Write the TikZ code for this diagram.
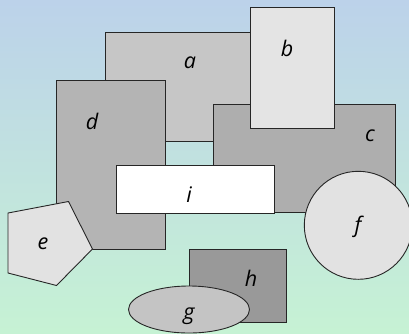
\documentclass[tikz,border=0pt]{standalone}
\usepackage{fontspec}
\setsansfont{Open Sans}
\usetikzlibrary{shapes.geometric}
\definecolor{skytop}{HTML}{BCD2EA}
\definecolor{skybot}{HTML}{C6F2D4}
\definecolor{greyA}{HTML}{C6C6C6}
\definecolor{greyB}{HTML}{E4E4E4}
\definecolor{greyC}{HTML}{AEAEAE}
\definecolor{greyD}{HTML}{B4B4B4}
\definecolor{greyE}{HTML}{E2E2E2}
\definecolor{greyG}{HTML}{C4C4C4}
\definecolor{greyH}{HTML}{999999}
\begin{document}
\begin{tikzpicture}[x=1pt,y=-1pt,
    piece/.style={draw=black!85,line width=0.9pt,inner sep=0pt,outer sep=0pt},
    lbl/.style={anchor=base,inner sep=0pt,font=\sffamily\itshape\fontsize{21.5}{25}\selectfont}]
    \useasboundingbox (0,0) rectangle (409,333);
    \clip (0,0) rectangle (409,333);
    \shade[top color=skytop,bottom color=skybot] (0,0) rectangle (409,333);
    % shapes, back to front
    \node[piece,fill=greyA,minimum width=170,minimum height=109] (a) at (190,86.5) {};
    \node[lbl] (la) at (190,68) {a};
    \node[piece,fill=greyD,minimum width=109,minimum height=168.5] (d) at (111,164.7) {};
    \node[lbl] (ld) at (92,129) {d};
    \node[piece,fill=greyC,minimum width=181.5,minimum height=108] (c) at (304.2,158.5) {};
    \node[lbl] (lc) at (370,141) {c};
    \node[piece,fill=greyB,minimum width=84.5,minimum height=120.8] (b) at (292.2,68.1) {};
    \node[lbl] (lb) at (287,56) {b};
    \node[piece,fill=white,minimum width=157.5,minimum height=48] (i) at (195.2,189) {};
    \node[lbl] (li) at (189,202) {i};
    \draw[piece,fill=greyE] (8,213) -- (68.5,201.5) -- (92.5,249) -- (56.5,285.5) -- (8,273) -- cycle;
    \node[lbl] (le) at (43,249) {e};
    \node[piece,circle,fill=greyE,minimum size=108] (f) at (358.3,225.3) {};
    \node[lbl] (lf) at (358,232) {f};
    \node[piece,fill=greyH,minimum width=96.5,minimum height=72.5] (h) at (237.7,285.7) {};
    \node[lbl] (lh) at (251,286) {h};
    \node[piece,ellipse,fill=greyG,minimum width=121,minimum height=47] (g) at (189,309.5) {};
    \node[lbl] (lg) at (189,319) {g};
\end{tikzpicture}
\end{document}
